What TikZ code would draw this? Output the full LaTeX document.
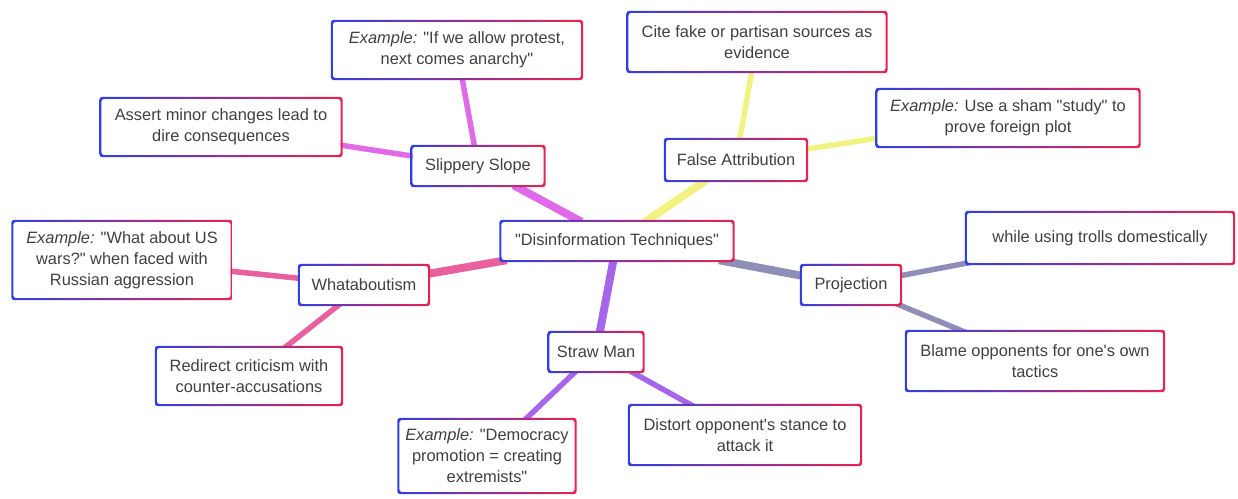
\documentclass[tikz,border=0pt]{standalone}
\usepackage{fontspec}
\setmainfont{Liberation Sans}[Ligatures=TeXOff]
\usetikzlibrary{backgrounds}

\definecolor{frameblue}{HTML}{3040E0}
\definecolor{framered}{HTML}{E82450}
\definecolor{slopecol}{HTML}{E06AE8}
\definecolor{whatcol}{HTML}{E8609E}
\definecolor{strawcol}{HTML}{A666EA}
\definecolor{projcol}{HTML}{8E8EB6}
\definecolor{falsecol}{HTML}{F2F282}

\begin{document}
\begin{tikzpicture}[x=1pt,y=-1pt,
    topic/.style={rectangle, rounded corners=2pt, fill=white, align=center,
        inner sep=2pt, text=black!75, font=\fontsize{16.4}{21}\selectfont},
    branch/.style={line width=8pt},
    twig/.style={line width=5.5pt}]
    \useasboundingbox (0,0) rectangle (1238,498);

    % Boxes: name/x/y/width/height/text
    \foreach \name/\x/\y/\w/\h/\txt in {
        center/617/241/231/38/{"Disinformation Techniques"},
        slope/478/166/131/38/{Slippery Slope},
        protest/457/50/248/56/{\textit{Example:} "If we allow protest,\\next comes anarchy"},
        minor/221/127/239/56/{Assert minor changes lead to\\dire consequences},
        whatab/364/285/128/38/{Whataboutism},
        uswars/122/260/217/76/{\textit{Example:} "What about US\\wars?" when faced with\\Russian aggression},
        redirect/249/376/184/56/{Redirect criticism with\\counter-accusations},
        straw/596/352/93/38/{Straw Man},
        democracy/487/456/175/72/{\textit{Example:} "Democracy\\promotion = creating\\extremists"},
        distort/745/435/230/58/{Distort opponent's stance to\\attack it},
        proj/851/285/98/38/{Projection},
        trolls/1100/238/266/50/{while using trolls domestically},
        blame/1035/361/256/58/{Blame opponents for one's own\\tactics},
        falseattr/736/160/140/40/{False Attribution},
        cite/757/42/257/58/{Cite fake or partisan sources as\\evidence},
        sham/1008/118/261/56/{\textit{Example:} Use a sham "study" to\\prove foreign plot}}
    {
        \node[topic, minimum width=\w pt, minimum height=\h pt] (\name) at (\x,\y) {\txt};
    }

    % Blue-to-red frames
    \foreach \name in {center, slope, protest, minor, whatab, uswars, redirect, straw,
        democracy, distort, proj, trolls, blame, falseattr, cite, sham}
    {
        \shade[left color=frameblue, right color=framered, even odd rule, rounded corners=3pt]
            ([shift={(-2pt,2pt)}]\name.north west) rectangle ([shift={(2pt,-2pt)}]\name.south east)
            (\name.north west) rectangle (\name.south east);
    }

    % Connectors
    \begin{pgfonlayer}{background}
        \foreach \a/\b/\col in {center/slope/slopecol, center/whatab/whatcol,
            center/straw/strawcol, center/proj/projcol, center/falseattr/falsecol}
            \draw[branch, \col] (\a) -- (\b);
        \foreach \a/\b/\col in {slope/protest/slopecol, slope/minor/slopecol,
            whatab/uswars/whatcol, whatab/redirect/whatcol,
            straw/democracy/strawcol, straw/distort/strawcol,
            proj/trolls/projcol, proj/blame/projcol,
            falseattr/cite/falsecol, falseattr/sham/falsecol}
            \draw[twig, \col] (\a.center) -- (\b.center);
    \end{pgfonlayer}
\end{tikzpicture}
\end{document}
